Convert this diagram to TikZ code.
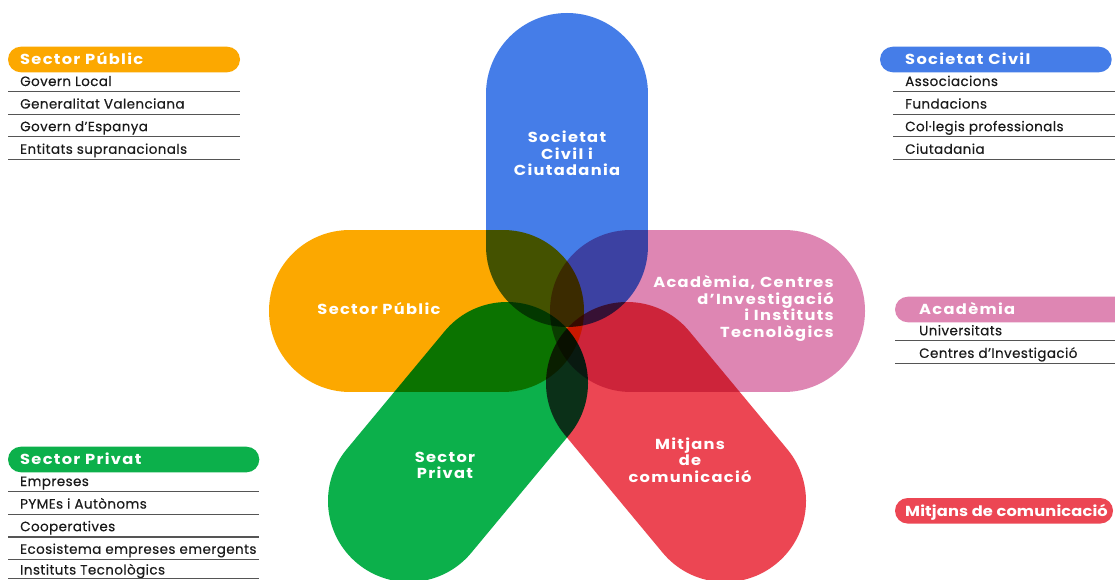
\documentclass[tikz,border=0pt]{standalone}
\usepackage{fontspec}
\setmainfont{Poppins}
\newfontfamily\headfont[LetterSpace=9,FakeStretch=1.12]{Poppins}
\newfontfamily\tightheadfont[LetterSpace=1,FakeStretch=1.12]{Poppins}
\newfontfamily\itemfont[LetterSpace=3,FakeBold=0.3]{Poppins}
\definecolor{cblue}{HTML}{457DE8}
\definecolor{corange}{HTML}{FCA800}
\definecolor{cpink}{HTML}{DE86B3}
\definecolor{cgreen}{HTML}{0CB04B}
\definecolor{cred}{HTML}{EC4653}
\definecolor{rulegray}{HTML}{555555}
\definecolor{textdark}{HTML}{1A1A1A}
\tikzset{
  capsule/.style={line width=162pt, line cap=round},
  pill/.style={rounded corners=12.8pt},
  rulebar/.style={draw=rulegray, line width=1.2pt},
  item/.style={anchor=base west, inner sep=0pt, text=textdark, font=\itemfont\fontsize{13.5}{16}\selectfont},
  head/.style={anchor=base west, inner sep=0pt, text=white, font=\headfont\bfseries\fontsize{14.5}{16.5}\selectfont},
  biglabel/.style={inner sep=0pt, text=white, font=\headfont\bfseries\fontsize{14.5}{16.5}\selectfont},
}
\begin{document}
\begin{tikzpicture}[x=1pt, y=-1pt]
\useasboundingbox (0,0) rectangle (1115,580);
\fill[white] (0,0) rectangle (1115,580);
\clip (0,0) rectangle (1115,580);

% petals
\begin{scope}[blend mode=multiply]
  \draw[capsule, cblue]   (567,94)    -- (567,246);
  \draw[capsule, corange] (350,310.5) -- (503,310.5);
  \draw[capsule, cpink]   (631,310.5) -- (784,310.5);
  \draw[capsule, cgreen]  (507,383)   -- (409,501);
  \draw[capsule, cred]    (627,383)   -- (725,501);
\end{scope}

% petal labels
\node[biglabel, align=center] (lblue) at (567,153.6) {Societat\\Civil i\\Ciutadania};
\node[biglabel] (lorange) at (379,309) {Sector Públic};
\node[biglabel, align=right, anchor=east] (lpink) at (834,308.3) {Acadèmia, Centres\\d’Investigació\\i Instituts\\Tecnològics};
\node[biglabel, align=center] (lred) at (690,460) {Mitjans\\de\\comunicació};
\node[biglabel, align=center] (lgreen) at (445,465.3) {Sector\\Privat};

% Sector Public list
\fill[corange, pill] (8,46.7) rectangle (240,72.3);
\node[head] (hpub) at (20,64.5) {Sector Públic};
\foreach \t [count=\i from 0] in {Govern Local, Generalitat Valenciana, Govern d’Espanya, Entitats supranacionals} {
  \node[item] (pub\i) at (20,86+22.6*\i) {\t};
  \draw[rulebar] (8,91.7+22.6*\i) -- (240,91.7+22.6*\i);
}

% Societat Civil list
\fill[cblue, pill] (880,46.7) rectangle (1111.7,72.3);
\node[head] (hciv) at (905,64.5) {Societat Civil};
\foreach \t [count=\i from 0] in {Associacions, Fundacions, Col·legis professionals, Ciutadania} {
  \node[item] (civ\i) at (905,86+22.6*\i) {\t};
  \draw[rulebar] (893,91.7+22.6*\i) -- (1115,91.7+22.6*\i);
}

% Academia list
\fill[cpink, pill] (895,296.7) rectangle (1130,322.3);
\node[head] (hacad) at (919,314.5) {Acadèmia};
\foreach \t [count=\i from 0] in {Universitats, Centres d’Investigació} {
  \node[item] (acad\i) at (919,335.3+22.6*\i) {\t};
  \draw[rulebar] (895,340.7+22.6*\i) -- (1115,340.7+22.6*\i);
}

% Sector Privat list
\fill[cgreen, pill] (8,446.7) rectangle (259.3,472.3);
\node[head] (hpriv) at (20,464.5) {Sector Privat};
\foreach \t [count=\i from 0] in {Empreses, PYMEs i Autònoms, Cooperatives, Ecosistema empreses emergents} {
  \node[item] (priv\i) at (20,486+22.6*\i) {\t};
  \draw[rulebar] (8,491.7+22.6*\i) -- (259.3,491.7+22.6*\i);
}
\node[item] (priv4) at (20,574.5) {Instituts Tecnològics};
\draw[rulebar] (8,578.6) -- (259.3,578.6);

% Mitjans pill
\fill[cred, pill] (895,498) rectangle (1113,523.6);
\node[head, font=\tightheadfont\bfseries\fontsize{14.5}{16.5}\selectfont] (hmed) at (905,516) {Mitjans de comunicació};
\end{tikzpicture}
\end{document}
